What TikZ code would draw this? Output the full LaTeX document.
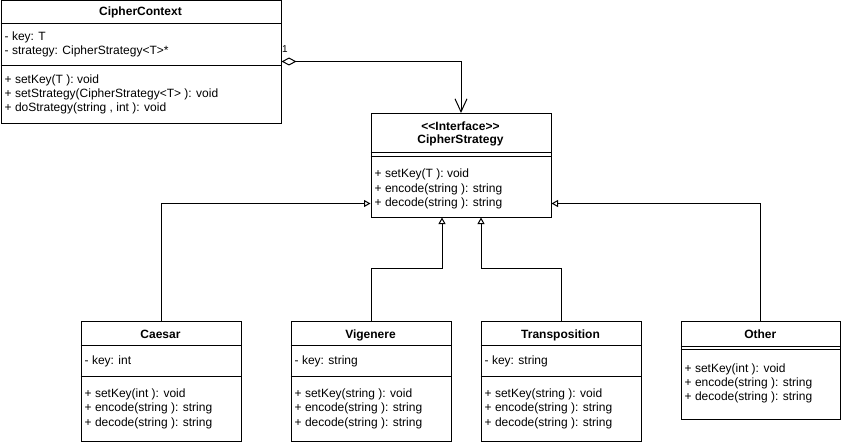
\documentclass[tikz,border=0pt]{standalone}
\usepackage{fontspec}
\setmainfont{Liberation Sans}
\usetikzlibrary{arrows.meta,calc}
\begin{document}
\begin{tikzpicture}[x=1pt,y=-1pt,
  umlbox/.style={draw,line width=1pt,inner sep=0pt,anchor=north west},
  sepline/.style={line width=1pt},
  txt/.style={anchor=base west,inner sep=0pt,font=\fontsize{12}{14}\selectfont},
  ttl/.style={anchor=base,inner sep=0pt,font=\fontsize{12}{14}\selectfont\bfseries},
  inh/.style={line width=1pt,-{Triangle[open,length=6.5pt,width=7pt,line width=1pt]}},
  agg/.style={line width=1pt,{Diamond[open,length=15pt,width=8pt,line width=1pt]}-{Straight Barb[length=13pt,width=12pt,line width=1pt]}}
]
\useasboundingbox (0,0) rectangle (841,444);

% CipherContext
\node[umlbox,minimum width=280pt,minimum height=122pt] (ctx) at (0.5,0.5) {};
\node[ttl] (ctxt) at (140.5,15.5) {CipherContext};
\draw[sepline] (0.5,24) -- (ctx.east |- 0,24);
\node[txt] (ctxa1) at (4.5,41) {- key: T};
\node[txt] (ctxa2) at (4.5,55) {- strategy: CipherStrategy{<}T{>}*};
\draw[sepline] (0.5,66) -- (ctx.east |- 0,66);
\node[txt] (ctxm1) at (4.5,83.5) {+ setKey(T ): void};
\node[txt] (ctxm2) at (4.5,97.5) {+ setStrategy(CipherStrategy{<}T{>} ): void};
\node[txt] (ctxm3) at (4.5,111.5) {+ doStrategy(string , int ): void};

% CipherStrategy
\node[umlbox,minimum width=180pt,minimum height=103.5pt] (strat) at (370.5,113) {};
\node[ttl] (stratt1) at (460.5,130.5) {{<}{<}Interface{>}{>}};
\node[ttl] (stratt2) at (460.5,143.5) {CipherStrategy};
\draw[sepline] (strat.west |- 0,152.5) -- (strat.east |- 0,152.5);
\draw[sepline] (strat.west |- 0,156.5) -- (strat.east |- 0,156.5);
\node[txt] (stratm1) at (374.5,177.5) {+ setKey(T ): void};
\node[txt] (stratm2) at (374.5,192) {+ encode(string ): string};
\node[txt] (stratm3) at (374.5,206.3) {+ decode(string ): string};

% Caesar
\node[umlbox,minimum width=160pt,minimum height=120pt] (caesar) at (80.5,320.5) {};
\node[ttl] (caesart) at (160.5,338.5) {Caesar};
\draw[sepline] (caesar.west |- 0,345.5) -- (caesar.east |- 0,345.5);
\node[txt] (caesara) at (84.5,364) {- key: int};
\draw[sepline] (caesar.west |- 0,376) -- (caesar.east |- 0,376);
\node[txt] (caesarm1) at (84.5,397) {+ setKey(int ): void};
\node[txt] (caesarm2) at (84.5,411.5) {+ encode(string ): string};
\node[txt] (caesarm3) at (84.5,426) {+ decode(string ): string};

% Vigenere
\node[umlbox,minimum width=160pt,minimum height=120pt] (vig) at (290.5,320.5) {};
\node[ttl] (vigt) at (370.5,338.5) {Vigenere};
\draw[sepline] (vig.west |- 0,345.5) -- (vig.east |- 0,345.5);
\node[txt] (viga) at (294.5,364) {- key: string};
\draw[sepline] (vig.west |- 0,376) -- (vig.east |- 0,376);
\node[txt] (vigm1) at (294.5,397) {+ setKey(string ): void};
\node[txt] (vigm2) at (294.5,411.5) {+ encode(string ): string};
\node[txt] (vigm3) at (294.5,426) {+ decode(string ): string};

% Transposition
\node[umlbox,minimum width=160pt,minimum height=120pt] (trans) at (480.5,320.5) {};
\node[ttl] (transt) at (560.5,338.5) {Transposition};
\draw[sepline] (trans.west |- 0,345.5) -- (trans.east |- 0,345.5);
\node[txt] (transa) at (484.5,364) {- key: string};
\draw[sepline] (trans.west |- 0,376) -- (trans.east |- 0,376);
\node[txt] (transm1) at (484.5,397) {+ setKey(string ): void};
\node[txt] (transm2) at (484.5,411.5) {+ encode(string ): string};
\node[txt] (transm3) at (484.5,426) {+ decode(string ): string};

% Other
\node[umlbox,minimum width=159.5pt,minimum height=98.5pt] (other) at (680.5,320.5) {};
\node[ttl] (othert) at (760.3,338.5) {Other};
\draw[sepline] (other.west |- 0,346) -- (other.east |- 0,346);
\draw[sepline] (other.west |- 0,349.5) -- (other.east |- 0,349.5);
\node[txt] (otherm1) at (684.5,372) {+ setKey(int ): void};
\node[txt] (otherm2) at (684.5,386.3) {+ encode(string ): string};
\node[txt] (otherm3) at (684.5,400.5) {+ decode(string ): string};

% connectors
\draw[agg] ($(ctx.north east)+(0,61)$) -| (strat.north);
\node[anchor=base west,inner sep=0pt,font=\fontsize{10}{12}\selectfont] (mult) at (282,52.5) {1};
\draw[inh] (caesar.north) |- ($(strat.south west)+(0,-14)$);
\draw[inh] (vig.north) -- ++(0,-52.5) -| ($(strat.south)+(-19,0)$);
\draw[inh] (trans.north) -- ++(0,-52.5) -| ($(strat.south)+(20,0)$);
\draw[inh] (other.north) |- ($(strat.south east)+(0,-14)$);
\end{tikzpicture}
\end{document}
